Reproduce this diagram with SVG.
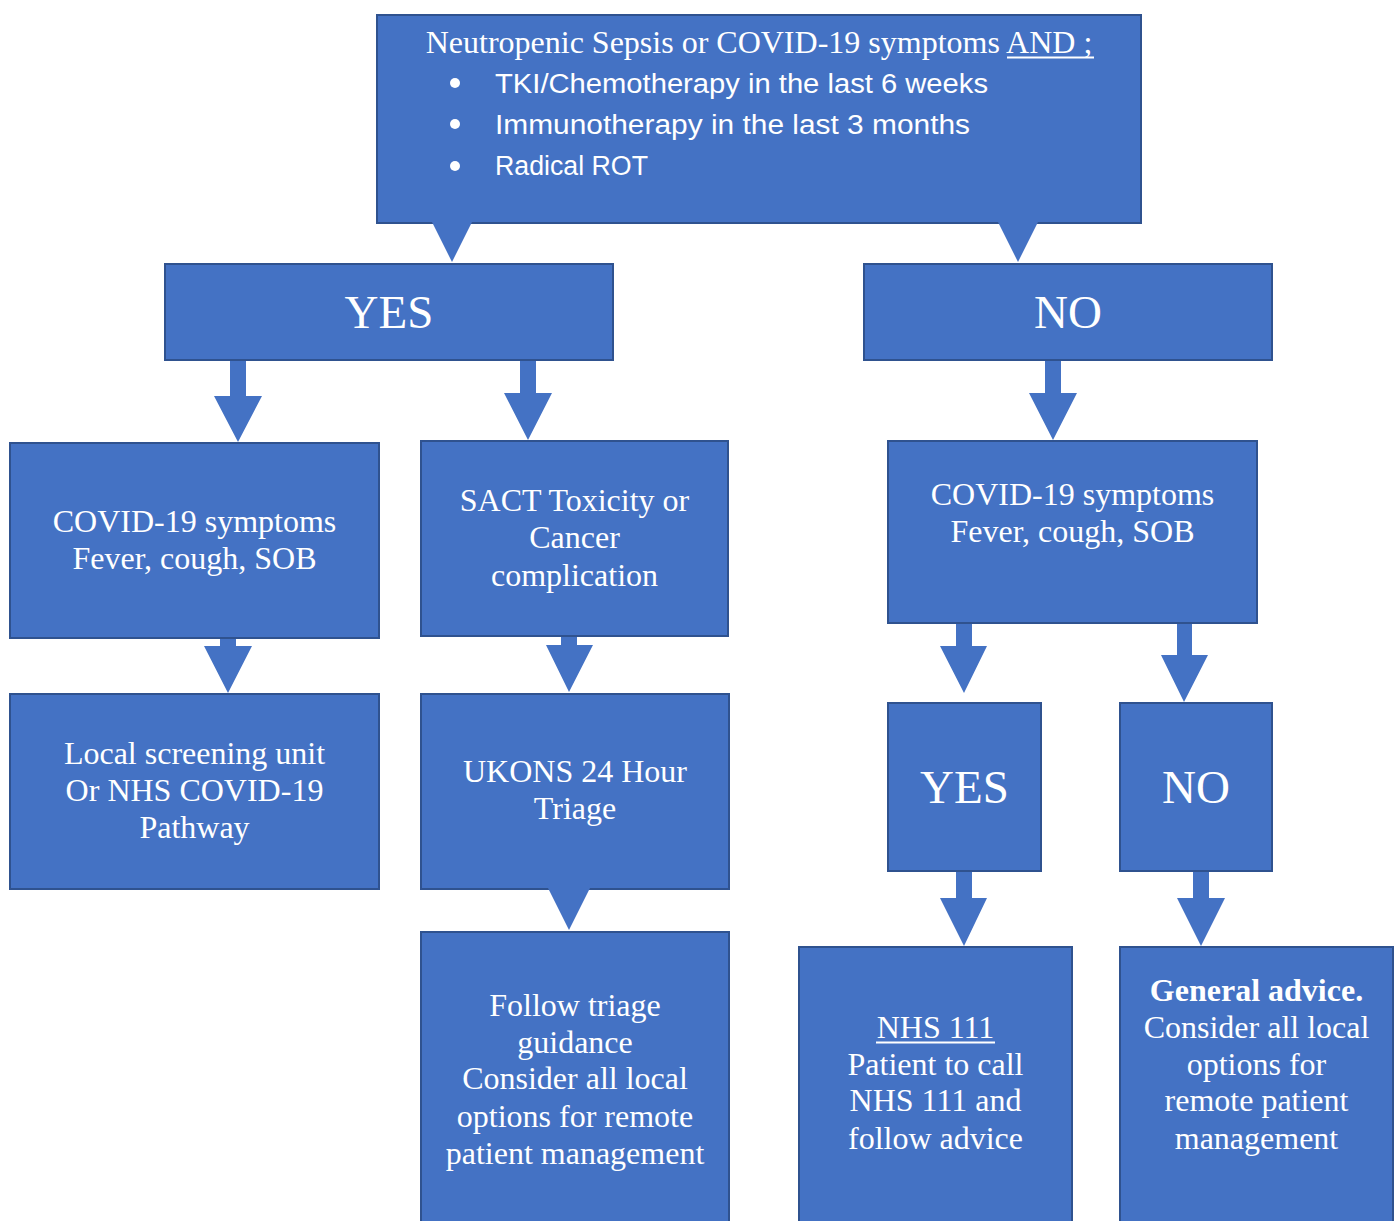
<svg xmlns="http://www.w3.org/2000/svg" width="1397" height="1221" viewBox="0 0 1397 1221">
  <style>
    .box { fill: #4472C4; stroke: #2F528F; stroke-width: 2; }
    .fill { fill: #4472C4; }
    .t { font-family: "Liberation Serif", "Times New Roman", serif; font-size: 32px; fill: #FFFFFF; text-anchor: middle; }
    .big { font-family: "Liberation Serif", "Times New Roman", serif; font-size: 47px; fill: #FFFFFF; text-anchor: middle; }
    .b { font-family: "Liberation Sans", Arial, sans-serif; font-size: 27px; fill: #FFFFFF; }
    .ul { stroke: #FFFFFF; stroke-width: 2; }
  </style>
  <rect width="1397" height="1221" fill="#FFFFFF"/>

  <g id="connectors">
    <!-- YES -> COVID left -->
    <polygon class="fill" points="230,359 246,359 246,396 262,396 238,442 214,396 230,396"/>
    <!-- YES -> SACT -->
    <polygon class="fill" points="520,359 536,359 536,393 552,393 528,440 504,393 520,393"/>
    <!-- NO -> COVID right -->
    <polygon class="fill" points="1045,359 1061,359 1061,393 1077,393 1053,440 1029,393 1045,393"/>
    <!-- COVID left -> Local screening -->
    <polygon class="fill" points="220,638 236,638 236,646 252,646 228,693 204,646 220,646"/>
    <!-- SACT -> UKONS -->
    <polygon class="fill" points="561,636 577,636 577,645 593,645 569,692 546,645 561,645"/>
    <!-- COVID right -> YES -->
    <polygon class="fill" points="956,623 972,623 972,646 987,646 964,693 940,646 956,646"/>
    <!-- COVID right -> NO -->
    <polygon class="fill" points="1177,623 1192,623 1192,655 1208,655 1184,702 1161,655 1177,655"/>
    <!-- YES small -> NHS 111 -->
    <polygon class="fill" points="956,871 972,871 972,898 987,898 964,946 940,898 956,898"/>
    <!-- NO small -> General advice -->
    <polygon class="fill" points="1193,871 1209,871 1209,898 1225,898 1201,946 1177,898 1193,898"/>
  </g>

  <g id="node-top">
    <rect class="box" x="377" y="15" width="764" height="208"/>
    <polygon class="fill" points="432,222 472,222 452,262"/>
    <polygon class="fill" points="998,222 1038,222 1018,262"/>
    <text class="t" x="759" y="53">Neutropenic Sepsis or COVID-19 symptoms AND ;</text>
    <line class="ul" x1="1007" y1="57.5" x2="1094" y2="57.5"/>
    <circle cx="455" cy="83" r="5" fill="#FFFFFF"/>
    <circle cx="455" cy="124" r="5" fill="#FFFFFF"/>
    <circle cx="455" cy="166" r="5" fill="#FFFFFF"/>
    <text class="b" x="495" y="93" textLength="493" lengthAdjust="spacingAndGlyphs">TKI/Chemotherapy in the last 6 weeks</text>
    <text class="b" x="495" y="134" textLength="475" lengthAdjust="spacingAndGlyphs">Immunotherapy in the last 3 months</text>
    <text class="b" x="495" y="175" textLength="153" lengthAdjust="spacingAndGlyphs">Radical ROT</text>
  </g>

  <g id="node-yes">
    <rect class="box" x="165" y="264" width="448" height="96"/>
    <text class="big" x="389" y="328">YES</text>
  </g>

  <g id="node-no">
    <rect class="box" x="864" y="264" width="408" height="96"/>
    <text class="big" x="1068" y="328">NO</text>
  </g>

  <g id="node-covid-left">
    <rect class="box" x="10" y="443" width="369" height="195"/>
    <text class="t" x="194.5" y="532">COVID-19 symptoms</text>
    <text class="t" x="194.5" y="569">Fever, cough, SOB</text>
  </g>

  <g id="node-sact">
    <rect class="box" x="421" y="441" width="307" height="195"/>
    <text class="t" x="574.5" y="511">SACT Toxicity or</text>
    <text class="t" x="574.5" y="548">Cancer</text>
    <text class="t" x="574.5" y="586">complication</text>
  </g>

  <g id="node-local">
    <rect class="box" x="10" y="694" width="369" height="195"/>
    <text class="t" x="194.5" y="764">Local screening unit</text>
    <text class="t" x="194.5" y="801">Or NHS COVID-19</text>
    <text class="t" x="194.5" y="838">Pathway</text>
  </g>

  <g id="node-ukons">
    <rect class="box" x="421" y="694" width="308" height="195"/>
    <polygon class="fill" points="548,888 590,888 569,930"/>
    <text class="t" x="575" y="782">UKONS 24 Hour</text>
    <text class="t" x="575" y="819">Triage</text>
  </g>

  <g id="node-follow">
    <rect class="box" x="421" y="932" width="308" height="300"/>
    <text class="t" x="575" y="1016">Follow triage</text>
    <text class="t" x="575" y="1053">guidance</text>
    <text class="t" x="575" y="1089">Consider all local</text>
    <text class="t" x="575" y="1127">options for remote</text>
    <text class="t" x="575" y="1164">patient management</text>
  </g>

  <g id="node-covid-right">
    <rect class="box" x="888" y="441" width="369" height="182"/>
    <text class="t" x="1072.5" y="505">COVID-19 symptoms</text>
    <text class="t" x="1072.5" y="542">Fever, cough, SOB</text>
  </g>

  <g id="node-yes-small">
    <rect class="box" x="888" y="703" width="153" height="168"/>
    <text class="big" x="964.5" y="803">YES</text>
  </g>

  <g id="node-no-small">
    <rect class="box" x="1120" y="703" width="152" height="168"/>
    <text class="big" x="1196" y="803">NO</text>
  </g>

  <g id="node-nhs111">
    <rect class="box" x="799" y="947" width="273" height="290"/>
    <text class="t" x="935.5" y="1038">NHS 111</text>
    <line class="ul" x1="876" y1="1042.5" x2="995" y2="1042.5"/>
    <text class="t" x="935.5" y="1075">Patient to call</text>
    <text class="t" x="935.5" y="1111">NHS 111 and</text>
    <text class="t" x="935.5" y="1149">follow advice</text>
  </g>

  <g id="node-general">
    <rect class="box" x="1120" y="947" width="273" height="290"/>
    <text class="t" x="1256.5" y="1001" font-weight="bold">General advice.</text>
    <text class="t" x="1256.5" y="1038">Consider all local</text>
    <text class="t" x="1256.5" y="1075">options for</text>
    <text class="t" x="1256.5" y="1111">remote patient</text>
    <text class="t" x="1256.5" y="1149">management</text>
  </g>
</svg>
